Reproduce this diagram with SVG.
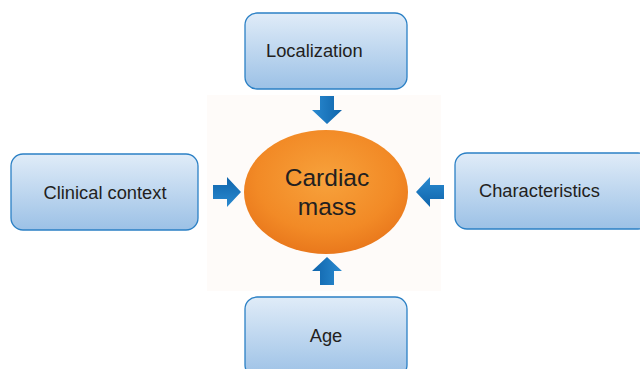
<svg xmlns="http://www.w3.org/2000/svg" width="640" height="369" viewBox="0 0 640 369">
<defs>
<linearGradient id="boxg" x1="0" y1="0" x2="0" y2="1">
<stop offset="0" stop-color="#e0ecf8"/>
<stop offset="1" stop-color="#9cc1e6"/>
</linearGradient>
<radialGradient id="ellg" cx="0.5" cy="0.4" r="0.6">
<stop offset="0" stop-color="#f7a23c"/>
<stop offset="0.7" stop-color="#f28a26"/>
<stop offset="1" stop-color="#e9781c"/>
</radialGradient>
<linearGradient id="arrg" x1="0" y1="0" x2="1" y2="0">
<stop offset="0" stop-color="#2a8ad0"/>
<stop offset="1" stop-color="#0f64ab"/>
</linearGradient>
<path id="arrow" d="M-7,-14 H7 V0 H15 L0,14 L-15,0 H-7 Z"/>
</defs>
<style>
.box{fill:url(#boxg);stroke:#2b80c5;stroke-width:1.3}
.lbl{font-family:"Liberation Sans",Arial,sans-serif;font-size:18.3px;fill:#231f20}
.big{font-family:"Liberation Sans",Arial,sans-serif;font-size:24.5px;fill:#231f20;text-anchor:middle}
.arr{fill:url(#arrg)}
</style>
<rect x="207" y="95" width="234" height="196" fill="#fefbf9"/>
<g id="connectors">
<use href="#arrow" class="arr" transform="translate(327,110)"/>
<use href="#arrow" class="arr" transform="translate(327,271) rotate(180)"/>
<use href="#arrow" class="arr" transform="translate(227,192) rotate(-90)"/>
<use href="#arrow" class="arr" transform="translate(430,192) rotate(90)"/>
</g>
<g id="center">
<ellipse cx="326" cy="192" rx="82" ry="62" fill="url(#ellg)"/>
<text class="big" x="327" y="186">Cardiac</text>
<text class="big" x="327" y="215">mass</text>
</g>
<g id="localization">
<rect class="box" x="245" y="13" width="162" height="76" rx="12"/>
<text class="lbl" x="266" y="57">Localization</text>
</g>
<g id="clinical">
<rect class="box" x="11" y="154" width="187" height="76" rx="12"/>
<text class="lbl" x="105" y="199" text-anchor="middle">Clinical context</text>
</g>
<g id="characteristics">
<rect class="box" x="455" y="153" width="195" height="76" rx="12"/>
<text class="lbl" x="479" y="197">Characteristics</text>
</g>
<g id="age">
<rect class="box" x="245" y="297" width="162" height="80" rx="12"/>
<text class="lbl" x="326" y="342" text-anchor="middle">Age</text>
</g>
</svg>
